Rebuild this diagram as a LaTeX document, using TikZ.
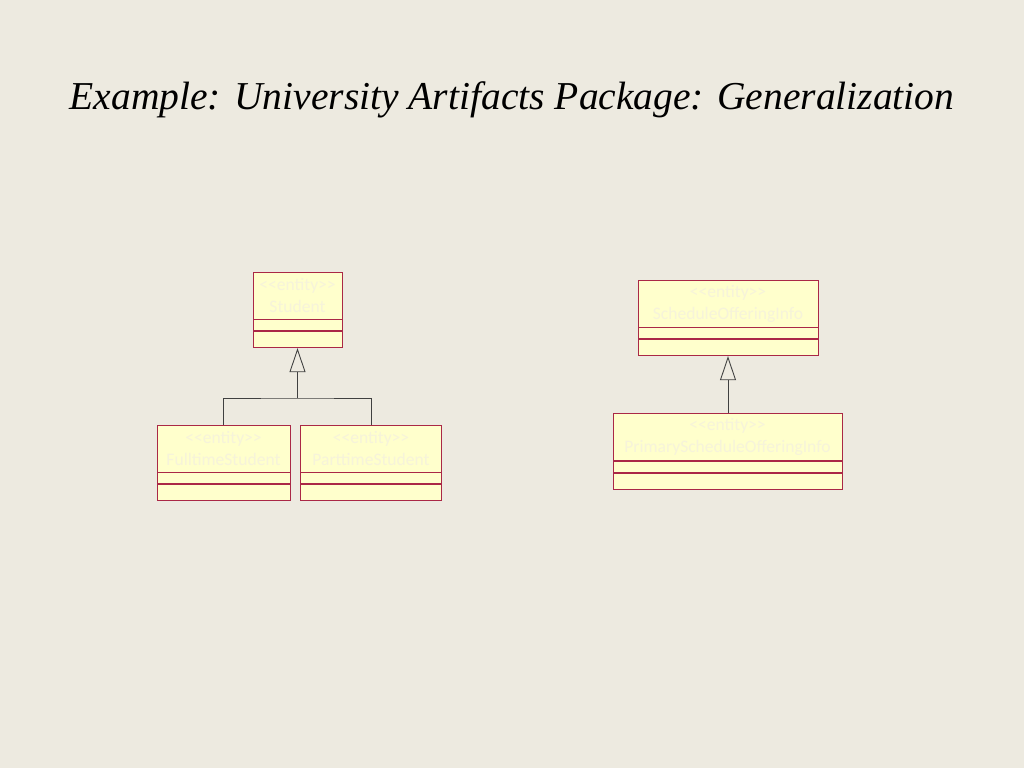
\documentclass[tikz,border=0pt]{standalone}
\usepackage{fontspec}
\usepackage{tikz}
\usetikzlibrary{positioning,arrows.meta}
\newfontfamily\titlefont{Liberation Serif}
\newfontfamily\boxfont{Carlito}
\definecolor{slide}{RGB}{237,234,224}
\definecolor{boxfill}{RGB}{255,255,204}
\definecolor{boxline}{RGB}{170,40,70}
\definecolor{faint}{RGB}{246,243,218}
\begin{document}
\begin{tikzpicture}[
    x = 0.02cm, y = -0.02cm,
    part/.style = {draw = boxline, fill = boxfill,
      line width = 0.5pt, inner sep = 0pt},
    head/.style = {part, align = center,
      minimum height = 0.94cm,
      font = \fontsize{10}{12.5}\selectfont\boxfont, text = faint},
    attrs/.style = {part, minimum height = 0.22cm},
    ops/.style = {part, minimum height = 0.32cm},
    gen/.style = {draw = black!75, line width = 0.5pt,
      -{Triangle[open, length = 0.48cm, width = 0.32cm]}},
    link/.style = {draw = black!75, line width = 0.5pt},
    ]

    \useasboundingbox [fill = slide] (0, 0) rectangle (1024, 768);

    \node at (512, 100) [name = title,
      font = \fontsize{22.5}{27}\selectfont\titlefont\itshape]
    {Example: University Artifacts Package: Generalization};

    % Student
    \node at (297.5, 295.5)
    [head, minimum width = 1.78cm, name = stud_h] {{<}{<}entity{>}{>}\\Student};
    \node [attrs, minimum width = 1.78cm, below = 0pt of stud_h, name = stud_a] {};
    \node [ops, minimum width = 1.78cm, below = 0pt of stud_a, name = stud_o] {};

    \node at (223.5, 448.5)
    [head, minimum width = 2.66cm, name = full_h] {{<}{<}entity{>}{>}\\FulltimeStudent};
    \node [attrs, minimum width = 2.66cm, below = 0pt of full_h, name = full_a] {};
    \node [ops, minimum width = 2.66cm, below = 0pt of full_a, name = full_o] {};

    \node at (371, 448.5)
    [head, minimum width = 2.82cm, name = part_h] {{<}{<}entity{>}{>}\\ParttimeStudent};
    \node [attrs, minimum width = 2.82cm, below = 0pt of part_h, name = part_a] {};
    \node [ops, minimum width = 2.82cm, below = 0pt of part_a, name = part_o] {};

    \coordinate (joint) at (297.5, 398);
    \draw [link] (full_h.north) |- (joint) -| (part_h.north);
    \draw [gen] (joint) to (stud_o.south);

    % ScheduleOfferingInfo
    \node at (728, 303.5)
    [head, minimum width = 3.6cm, name = sched_h] {{<}{<}entity{>}{>}\\ScheduleOfferingInfo};
    \node [attrs, minimum width = 3.6cm, below = 0pt of sched_h, name = sched_a] {};
    \node [ops, minimum width = 3.6cm, below = 0pt of sched_a, name = sched_o] {};

    \node at (727.5, 437)
    [head, minimum width = 4.58cm, name = prim_h] {{<}{<}entity{>}{>}\\PrimaryScheduleOfferingInfo};
    \node [attrs, minimum width = 4.58cm, below = 0pt of prim_h, name = prim_a] {};
    \node [ops, minimum width = 4.58cm, below = 0pt of prim_a, name = prim_o] {};

    \draw [gen] (prim_h.north -| sched_o.south) to (sched_o.south);
  \end{tikzpicture}
\end{document}
